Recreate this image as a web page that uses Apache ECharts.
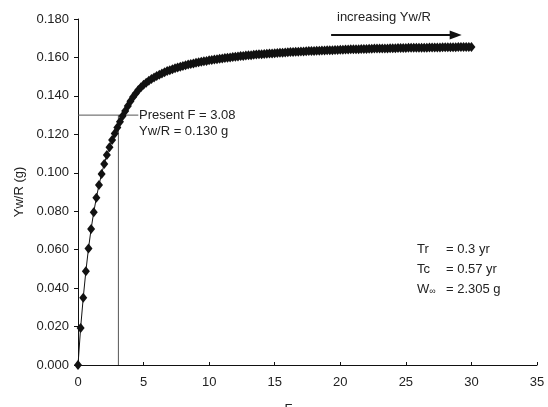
<!DOCTYPE html>
<html>
<head>
<meta charset="utf-8">
<script src="https://cdn.jsdelivr.net/npm/echarts@6/dist/echarts.min.js"></script>
<style>
  html, body { margin: 0; padding: 0; background: #fff; }
  #main { width: 548px; height: 407px; }
</style>
</head>
<body>
<div id="main"></div>
<script>
  // fishing mortality F (x axis), step 0.2
  var fValues = [
    0, 0.2, 0.4, 0.6, 0.8, 1.0, 1.2, 1.4, 1.6, 1.8,
    2.0, 2.2, 2.4, 2.6, 2.8, 3.0, 3.2, 3.4, 3.6, 3.8,
    4.0, 4.2, 4.4, 4.6, 4.8, 5.0, 5.2, 5.4, 5.6, 5.8,
    6.0, 6.2, 6.4, 6.6, 6.8, 7.0, 7.2, 7.4, 7.6, 7.8,
    8.0, 8.2, 8.4, 8.6, 8.8, 9.0, 9.2, 9.4, 9.6, 9.8,
    10.0, 10.2, 10.4, 10.6, 10.8, 11.0, 11.2, 11.4, 11.6, 11.8,
    12.0, 12.2, 12.4, 12.6, 12.8, 13.0, 13.2, 13.4, 13.6, 13.8,
    14.0, 14.2, 14.4, 14.6, 14.8, 15.0, 15.2, 15.4, 15.6, 15.8,
    16.0, 16.2, 16.4, 16.6, 16.8, 17.0, 17.2, 17.4, 17.6, 17.8,
    18.0, 18.2, 18.4, 18.6, 18.8, 19.0, 19.2, 19.4, 19.6, 19.8,
    20.0, 20.2, 20.4, 20.6, 20.8, 21.0, 21.2, 21.4, 21.6, 21.8,
    22.0, 22.2, 22.4, 22.6, 22.8, 23.0, 23.2, 23.4, 23.6, 23.8,
    24.0, 24.2, 24.4, 24.6, 24.8, 25.0, 25.2, 25.4, 25.6, 25.8,
    26.0, 26.2, 26.4, 26.6, 26.8, 27.0, 27.2, 27.4, 27.6, 27.8,
    28.0, 28.2, 28.4, 28.6, 28.8, 29.0, 29.2, 29.4, 29.6, 29.8,
    30.0
  ];
  // yield per recruit Yw/R (g)
  var ywrValues = [
    0, 0.0193, 0.0350, 0.0488, 0.0606, 0.0708, 0.0795, 0.0870, 0.0936, 0.0994,
    0.1046, 0.1092, 0.1133, 0.1170, 0.1204, 0.1236, 0.1266, 0.1295, 0.1322, 0.1348,
    0.1372, 0.1394, 0.1413, 0.1430, 0.1445, 0.1458, 0.1469, 0.1479, 0.1488, 0.1496,
    0.1503, 0.1510, 0.1517, 0.1523, 0.1529, 0.1534, 0.1539, 0.1544, 0.1548, 0.1552,
    0.1556, 0.1560, 0.1563, 0.1566, 0.1569, 0.1572, 0.1575, 0.1577, 0.1580, 0.1582,
    0.1585, 0.1587, 0.1589, 0.1591, 0.1593, 0.1595, 0.1597, 0.1599, 0.1600, 0.1602,
    0.1604, 0.1605, 0.1607, 0.1608, 0.1610, 0.1611, 0.1612, 0.1614, 0.1615, 0.1616,
    0.1617, 0.1618, 0.1619, 0.1620, 0.1621, 0.1622, 0.1623, 0.1624, 0.1625, 0.1626,
    0.1627, 0.1628, 0.1628, 0.1629, 0.1630, 0.1631, 0.1631, 0.1632, 0.1633, 0.1633,
    0.1634, 0.1635, 0.1635, 0.1636, 0.1636, 0.1637, 0.1638, 0.1638, 0.1639, 0.1639,
    0.1640, 0.1640, 0.1641, 0.1641, 0.1642, 0.1642, 0.1643, 0.1643, 0.1644, 0.1644,
    0.1644, 0.1645, 0.1645, 0.1646, 0.1646, 0.1646, 0.1647, 0.1647, 0.1647, 0.1648,
    0.1648, 0.1648, 0.1649, 0.1649, 0.1649, 0.1649, 0.1650, 0.1650, 0.1650, 0.1650,
    0.1651, 0.1651, 0.1651, 0.1651, 0.1652, 0.1652, 0.1652, 0.1652, 0.1652, 0.1653,
    0.1653, 0.1653, 0.1653, 0.1653, 0.1653, 0.1654, 0.1654, 0.1654, 0.1654, 0.1654,
    0.1654
  ];
  // present state
  var presentF = 3.08;
  var presentYwr = 0.130;
  var guideEndF = 4.6;      // horizontal guide runs up to the label
  // arrow "increasing Yw/R"
  var arrowF = [19.3, 28.6];
  var arrowY = 0.1717;
  // axis ticks
  var xTicks = [0, 35, 5];
  var yTicks = [0, 0.18, 0.02];

  var font = 'Liberation Sans, Arial, sans-serif';
  var curve = [];
  for (var i = 0; i < fValues.length; i++) {
    curve.push([fValues[i], ywrValues[i]]);
  }

  var chart = echarts.init(document.getElementById('main'));

  var option = {
    backgroundColor: '#fff',
    animation: false,
    grid: { left: 78, right: 11, top: 19, bottom: 42, outerBoundsMode: 'none' },
    xAxis: {
      type: 'value',
      min: xTicks[0], max: xTicks[1], interval: xTicks[2],
      name: 'F',
      nameLocation: 'middle',
      nameGap: 38,
      nameTextStyle: { color: '#222', fontSize: 13, fontFamily: font, padding: [0, 38, 0, 0] },
      axisLine: { lineStyle: { color: '#111', width: 1 } },
      axisTick: { inside: true, length: 3, lineStyle: { color: '#111' } },
      axisLabel: { color: '#222', fontSize: 13, fontFamily: font, margin: 11 },
      splitLine: { show: false }
    },
    yAxis: {
      type: 'value',
      min: yTicks[0], max: yTicks[1], interval: yTicks[2],
      name: 'Yw/R (g)',
      nameLocation: 'middle',
      nameGap: 52,
      nameTextStyle: { color: '#222', fontSize: 13, fontFamily: font },
      axisLine: { show: true, lineStyle: { color: '#111', width: 1 } },
      axisTick: { show: true, length: 4, lineStyle: { color: '#111' } },
      axisLabel: {
        color: '#222', fontSize: 13, fontFamily: font, margin: 9,
        formatter: function (v) { return v.toFixed(3); }
      },
      splitLine: { show: false }
    },
    series: [
      {
        // guide lines for present F
        type: 'line',
        data: [[0, presentYwr], [guideEndF, presentYwr]],
        symbol: 'none',
        lineStyle: { color: '#555', width: 1 },
        z: 1
      },
      {
        type: 'line',
        data: [[presentF, presentYwr], [presentF, 0]],
        symbol: 'none',
        lineStyle: { color: '#555', width: 1 },
        z: 1
      },
      {
        name: 'Yw/R',
        type: 'line',
        data: curve,
        symbol: 'diamond',
        symbolSize: [8, 10],
        itemStyle: { color: '#111' },
        lineStyle: { color: '#111', width: 1 },
        z: 3
      },
      {
        // arrow
        type: 'line',
        data: [[arrowF[0], arrowY], [arrowF[1], arrowY]],
        symbol: 'none',
        lineStyle: { color: '#111', width: 2 },
        markLine: {
          silent: true,
          symbol: ['none', 'triangle'],
          symbolSize: [9, 12],
          label: { show: false },
          lineStyle: { color: '#111', width: 2, type: 'solid' },
          data: [[{ coord: [arrowF[1] - 0.5, arrowY] }, { coord: [arrowF[1] + 0.2, arrowY] }]]
        }
      }
    ],
    graphic: [
      { type: 'text', left: 337, top: 11, style: { text: 'increasing Yw/R', fill: '#222', font: '13px ' + font } },
      { type: 'text', left: 139, top: 109, style: { text: 'Present F = 3.08', fill: '#222', font: '13px ' + font } },
      { type: 'text', left: 139, top: 125, style: { text: 'Yw/R = 0.130 g', fill: '#222', font: '13px ' + font } },
      { type: 'text', left: 417, top: 243, style: { text: 'Tr', fill: '#222', font: '13px ' + font } },
      { type: 'text', left: 417, top: 263, style: { text: 'Tc', fill: '#222', font: '13px ' + font } },
      {
        type: 'text', left: 417, top: 283,
        style: {
          text: 'W{s|∞}', fill: '#222', font: '13px ' + font,
          rich: { s: { fontSize: 9, fontFamily: font, fill: '#222', padding: [4, 0, 0, 0] } }
        }
      },
      { type: 'text', left: 446, top: 243, style: { text: '= 0.3 yr', fill: '#222', font: '13px ' + font } },
      { type: 'text', left: 446, top: 263, style: { text: '= 0.57 yr', fill: '#222', font: '13px ' + font } },
      { type: 'text', left: 446, top: 283, style: { text: '= 2.305 g', fill: '#222', font: '13px ' + font } }
    ]
  };

  chart.setOption(option);
</script>
</body>
</html>
